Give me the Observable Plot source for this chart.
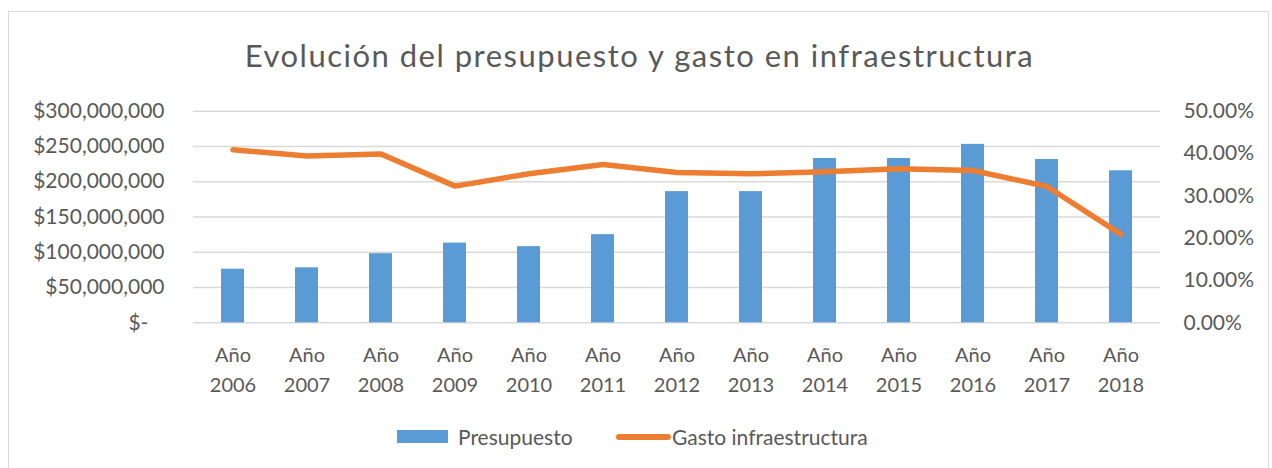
<!DOCTYPE html>
<html>
<head>
<meta charset="utf-8">
<script src="https://cdn.jsdelivr.net/npm/d3@7"></script>
<script src="https://cdn.jsdelivr.net/npm/@observablehq/plot@0.6"></script>
<style>
  html, body { margin: 0; padding: 0; background: #fff; }
  #wrap { position: relative; width: 1272px; height: 468px; overflow: hidden; font-family: Lato, "Open Sans", sans-serif; color: #595959; }
  #frame { position: absolute; left: 8px; top: 11px; width: 1261px; height: 480px; border: 1px solid #d9d9d9; box-sizing: border-box; }
  #title { position: absolute; left: 8px; width: 1263px; top: 40px; text-align: center; font-size: 31px; letter-spacing: 1.5px; line-height: 1; white-space: nowrap; }
  #chart { position: absolute; left: 0; top: 0; }
  .lg { position: absolute; }
  .lgtext { position: absolute; top: 425px; font-size: 21px; line-height: 24px; white-space: nowrap; }
</style>
</head>
<body>
<div id="wrap">
  <div id="frame"></div>
  <div id="title">Evolución del presupuesto y gasto en infraestructura</div>
  <div id="chart"></div>
  <div class="lg" style="left:397px; top:430px; width:51px; height:13px; background:#5B9BD5;"></div>
  <div class="lgtext" style="left:458px;">Presupuesto</div>
  <div class="lg" style="left:616px; top:434px; width:55px; height:6px; border-radius:3px; background:#ED7D31;"></div>
  <div class="lgtext" style="left:672px;">Gasto infraestructura</div>
</div>
<script>
// ---- data ----
const years = ["2006","2007","2008","2009","2010","2011","2012","2013","2014","2015","2016","2017","2018"];
const presupuesto = [76e6, 78e6, 98e6, 113e6, 108e6, 125e6, 186e6, 186e6, 233e6, 233e6, 253e6, 231.5e6, 215.5e6];
const gastoPct = [40.9, 39.4, 39.9, 32.3, 35.2, 37.4, 35.5, 35.2, 35.7, 36.4, 36.0, 32.2, 20.9];
const leftTicks = [0, 50e6, 100e6, 150e6, 200e6, 250e6, 300e6];
const rightTicks = [0, 10, 20, 30, 40, 50];

// right axis (0–50%) shares the plot with left axis (0–300M)
const k = 300e6 / 50;
const rows = years.map((y, i) => ({year: "Año " + y, presupuesto: presupuesto[i], gasto: gastoPct[i]}));
const cats = rows.map(d => d.year);

const chart = Plot.plot({
  width: 1272,
  height: 410,
  marginTop: 110.7,
  marginBottom: 87.7,
  marginLeft: 193,
  marginRight: 112,
  style: {fontFamily: "Lato, 'Open Sans', sans-serif", fontSize: "21px", color: "#595959", background: "transparent"},
  x: {domain: cats, paddingInner: 0.69, paddingOuter: 0.345, label: null},
  y: {domain: [0, 300e6], label: null},
  marks: [
    Plot.gridY(leftTicks, {stroke: "#d9d9d9", strokeOpacity: 1, strokeWidth: 1.4}),
    Plot.barY(rows, {x: "year", y: "presupuesto", fill: "#5B9BD5"}),
    Plot.line(rows, {x: "year", y: d => d.gasto * k, stroke: "#ED7D31", strokeWidth: 5.5, strokeLinecap: "round", strokeLinejoin: "round"}),
    Plot.axisY(leftTicks, {anchor: "left", tickSize: 0, tickPadding: 29, label: null, fontSize: 21,
      tickFormat: d => d === 0 ? "$-\u00a0\u00a0\u00a0" : "$" + d3.format(",")(d)}),
    Plot.axisY(rightTicks.map(p => p * k), {anchor: "right", tickSize: 0, tickPadding: 23, label: null, fontSize: 21,
      tickFormat: d => (d / k).toFixed(2) + "%"}),
    Plot.axisX(cats, {anchor: "bottom", tickSize: 0, tickPadding: 18, label: null, fontSize: 20, lineHeight: 1.5,
      tickFormat: d => d.replace(" ", "\n")})
  ]
});
document.getElementById("chart").appendChild(chart);
</script>
</body>
</html>
